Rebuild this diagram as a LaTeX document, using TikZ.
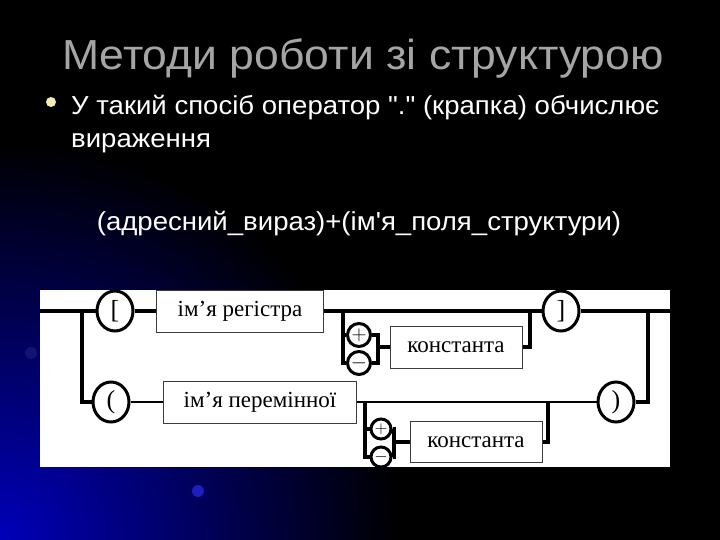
\documentclass[tikz,border=0pt]{standalone}
\usepackage{fontspec}
\setmainfont{Liberation Serif}
\newfontfamily\slidefont{Liberation Sans}[Ligatures=TeXOff,FakeStretch=1.06]
\usetikzlibrary{shapes.geometric}
\definecolor{titlegrey}{RGB}{165,165,165}
\definecolor{bulletyellow}{RGB}{240,236,180}
\definecolor{glowblue}{RGB}{0,0,185}
\definecolor{dotblue}{RGB}{30,30,190}
\definecolor{boxgrey}{RGB}{60,60,60}

\begin{document}
\begin{tikzpicture}[x=1pt,y=-1pt,
  rail/.style={line width=4pt},
  thinrail/.style={line width=2.6pt},
  slidetext/.style={text=white,inner sep=0pt,font=\slidefont\fontsize{26}{26}\selectfont},
  brk/.style={draw,ellipse,line width=3pt,fill=white,minimum width=36pt,minimum height=40pt,inner sep=0pt,font=\fontsize{26}{26}\selectfont},
  sgn/.style={draw,circle,line width=3pt,fill=white,minimum size=23pt,inner sep=0pt,font=\fontsize{22}{22}\selectfont},
  term/.style={draw=boxgrey,line width=1pt,fill=white,minimum height=42pt,inner sep=0pt,font=\fontsize{23}{23}\selectfont}
]
% slide background
\fill[black] (0,0) rectangle (720,540);
\begin{scope}
  \clip (0,0) rectangle (720,540);
  \shade[inner color=glowblue,outer color=black] (0,540) circle (400);
\end{scope}
\fill[dotblue!60!black] (31,353) circle (6);
\fill[dotblue] (198,491) circle (6);
\useasboundingbox (0,0) rectangle (720,540);

% title and text
\node[font=\slidefont\fontsize{42}{42}\selectfont,text=titlegrey,anchor=base] (title) at (363,70) {Методи роботи зі структурою};
\node[circle,fill=bulletyellow,minimum size=10pt,inner sep=0pt] (bullet) at (51,102) {};
\node[slidetext,anchor=base west] (lineA) at (71,115) {У такий спосіб оператор "." (крапка) обчислює};
\node[slidetext,anchor=base west] (lineB) at (71,148) {вираження};
\node[slidetext,anchor=base] (formula) at (359,230) {(адресний\_вираз)+(ім'я\_поля\_структури)};

% syntax diagram
\fill[white] (40,290) rectangle (670,467);
\begin{scope}
\clip (40,290) rectangle (670,467);
\coordinate (entry) at (40,311);
\coordinate (forkL) at (82,311);
\coordinate (forkR) at (648,311);
\coordinate (exit) at (670,311);
\node[brk] (sqopen) at (115,311) {[};
\node[term,minimum width=167pt] (reg) at (240,311) {ім’я регістра};
\node[brk] (sqclose) at (561,311) {]};
\coordinate (signAin) at (343,311);
\node[sgn] (plusA) at (359,335) {$+$};
\node[sgn] (minusA) at (359,363) {$-$};
\coordinate (signAout) at (378,347);
\node[term,minimum width=132pt] (constA) at (456,347) {константа};
\coordinate (joinA) at (530,311);
\node[brk] (rndopen) at (111,402) {(};
\node[term,minimum width=193pt] (var) at (260,402) {ім’я перемінної};
\node[brk] (rndclose) at (616,402) {)};
\coordinate (signBin) at (365,402);
\node[sgn,minimum size=20pt,font=\fontsize{19}{19}\selectfont] (plusB) at (381,429) {$+$};
\node[sgn,minimum size=20pt,font=\fontsize{19}{19}\selectfont] (minusB) at (381,457) {$-$};
\coordinate (signBout) at (394,442);
\node[term,minimum width=132pt,minimum height=41pt] (constB) at (476,442) {константа};
\coordinate (joinB) at (548,402);

\draw[rail] (entry) -- (sqopen);
\draw[rail] (sqopen) -- (reg);
\draw[rail] (reg) -- (sqclose);
\draw[rail] (sqclose) -- (exit);
\draw[rail] (forkL) |- (rndopen);
\draw[thinrail] (rndopen) -- (var);
\draw[thinrail] (var) -- (rndclose);
\draw[rail] (rndclose) -| (forkR);
% optional sign, upper branch
\draw[rail] (signAin) |- (plusA);
\draw[rail] (signAin) |- (minusA);
\draw[rail] (plusA) -| (signAout);
\draw[rail] (minusA) -| (signAout);
\draw[rail] (signAout) -- (constA);
\draw[rail] (constA) -| (joinA);
% optional sign, lower branch
\draw[rail] (signBin) |- (plusB);
\draw[rail] (signBin) |- (minusB);
\draw[rail] (plusB) -| (signBout);
\draw[rail] (minusB) -| (signBout);
\draw[rail] (signBout) -- (constB);
\draw[rail] (constB) -| (joinB);
\end{scope}
\end{tikzpicture}
\end{document}
